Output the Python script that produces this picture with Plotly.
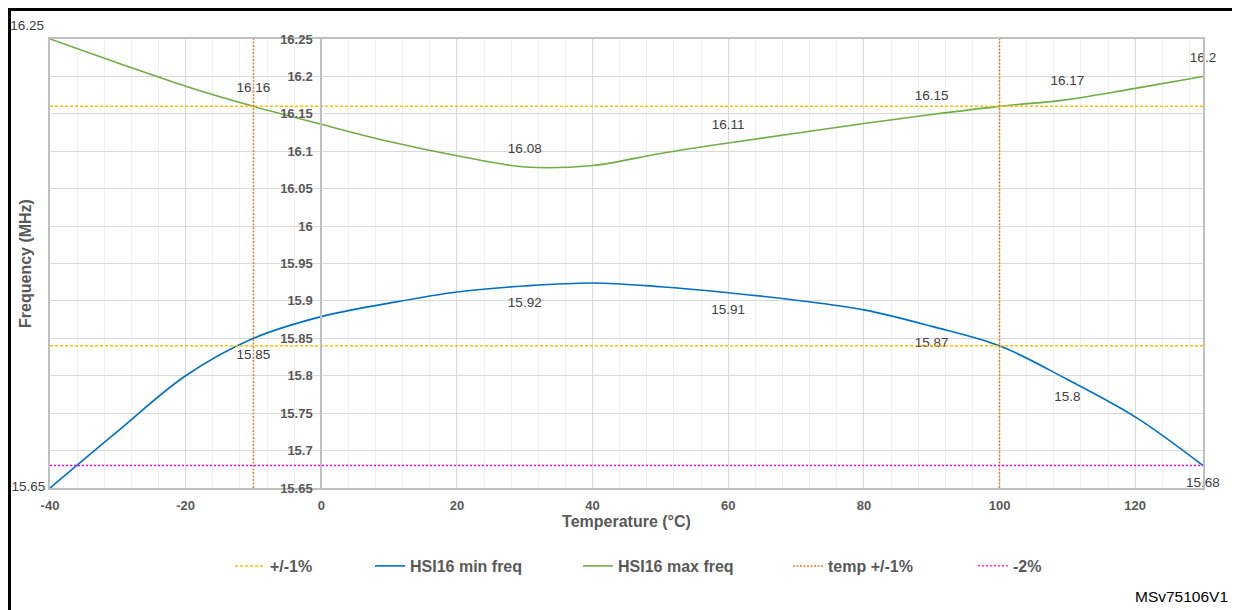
import plotly.graph_objects as go

# ---------------- data ----------------
temperature = [-40, -30, -20, -10, 0, 10, 20, 30, 40, 50, 60, 70, 80, 90, 100, 110, 120, 130]
hsi16_min = [15.65, 15.726, 15.80, 15.85, 15.879, 15.897, 15.912, 15.920, 15.924, 15.919,
             15.911, 15.901, 15.888, 15.866, 15.84, 15.795, 15.745, 15.68]
hsi16_max = [16.25, 16.218, 16.187, 16.16, 16.136, 16.113, 16.094, 16.079, 16.081, 16.097,
             16.111, 16.124, 16.137, 16.149, 16.16, 16.169, 16.184, 16.20]
min_labels = ["15.65", "", "", "15.85", "", "", "", "15.92", "", "", "15.91", "", "", "15.87", "", "15.8", "", "15.68"]
max_labels = ["16.25", "", "", "16.16", "", "", "", "16.08", "", "", "16.11", "", "", "16.15", "", "16.17", "", "16.2"]

freq_limits = [16.16, 15.84]      # +/-1%
temp_limits = [-10, 100]          # temp +/-1%
minus2_limit = 15.68              # -2%
x_range = [-40, 130]
y_range = [15.65, 16.25]
x_tickvals = [-40, -20, 0, 20, 40, 60, 80, 100, 120]
x_ticktext = ["-40", "-20", "0", "20", "40", "60", "80", "100", "120"]

series_names = ["+/-1%", "HSI16 min freq", "HSI16 max freq", "temp +/-1%", "-2%"]

# ---------------- styling ----------------
# page body has an 8px margin, so the figure is drawn 8px right/down of the window corner
OFF = 8
W, H = 1232, 602
L, R, T, B = 42, 37, 31, 122
PW, PH = W - L - R, H - T - B
FONT = "Liberation Sans, Arial, sans-serif"
TICK_GREY = "#595959"
LABEL_GREY = "#404040"


def px_x(px):  # window pixel -> paper fraction
    return (px - OFF - L) / PW


def px_y(py):
    return (H - B - (py - OFF)) / PH


n = len(temperature)
min_pos = ["middle left"] + ["bottom center"] * (n - 1)
max_pos = ["top left"] + ["top center"] * (n - 1)
# invisible markers, only used to push the value labels away from the lines
min_marker = dict(size=[6] + [16] * (n - 1), color="rgba(0,0,0,0)", line=dict(width=0))
max_marker = dict(size=[8] + [16] * (n - 1), color="rgba(0,0,0,0)", line=dict(width=0))

fig = go.Figure()

# +/-1% horizontal limits
hx, hy = [], []
for v in freq_limits:
    hx += [x_range[0], x_range[1], None]
    hy += [v, v, None]
fig.add_trace(go.Scatter(x=hx, y=hy, mode="lines", name=series_names[0],
                         line=dict(color="#FFC000", width=1.5, dash="3px,2px"),
                         yaxis="y2", legend="legend", hoverinfo="skip"))

fig.add_trace(go.Scatter(x=temperature, y=hsi16_min, mode="lines+markers+text", name=series_names[1],
                         text=min_labels, textposition=min_pos, cliponaxis=False,
                         textfont=dict(family=FONT, size=13.5, color=LABEL_GREY),
                         marker=min_marker,
                         line=dict(color="#0070C0", width=1.6, shape="spline", smoothing=1),
                         legend="legend2"))

fig.add_trace(go.Scatter(x=temperature, y=hsi16_max, mode="lines+markers+text", name=series_names[2],
                         text=max_labels, textposition=max_pos, cliponaxis=False,
                         textfont=dict(family=FONT, size=13.5, color=LABEL_GREY),
                         marker=max_marker,
                         line=dict(color="#70AD47", width=1.6, shape="spline", smoothing=1),
                         legend="legend3"))

# temp +/-1% vertical limits
vx, vy = [], []
for t in temp_limits:
    vx += [t, t, None]
    vy += [y_range[0], y_range[1], None]
fig.add_trace(go.Scatter(x=vx, y=vy, mode="lines", name=series_names[3],
                         line=dict(color="#ED7D31", width=1.5, dash="2px,1.5px"),
                         yaxis="y2", legend="legend4", hoverinfo="skip"))

fig.add_trace(go.Scatter(x=x_range, y=[minus2_limit, minus2_limit], mode="lines", name=series_names[4],
                         line=dict(color="#EE00EE", width=1.4, dash="2px,2px"),
                         yaxis="y2", legend="legend5", hoverinfo="skip"))

tickfont = dict(family=FONT, size=13, color=TICK_GREY, weight="bold")
legfont = dict(family=FONT, size=16, color=TICK_GREY, weight="bold")

legend_text_px = [274, 414, 622, 832, 1017]
legend_y = px_y(566)
legends = {}
for i, tx in enumerate(legend_text_px):
    key = "legend" if i == 0 else f"legend{i+1}"
    legends[key] = dict(x=px_x(tx - 44), y=legend_y, xanchor="left", yanchor="middle",
                        orientation="h", font=legfont, bgcolor="rgba(0,0,0,0)",
                        itemwidth=30, borderwidth=0)

fig.update_layout(
    width=W, height=H,
    margin=dict(l=L, r=R, t=T, b=B, autoexpand=False),
    paper_bgcolor="white", plot_bgcolor="white",
    font=dict(family=FONT, color=TICK_GREY),
    showlegend=True,
    xaxis=dict(range=x_range, tickvals=x_tickvals, ticktext=x_ticktext,
               showgrid=True, gridcolor="#D9D9D9", gridwidth=1,
               minor=dict(dtick=4, tick0=-40, showgrid=True, gridcolor="#EFEFEF", gridwidth=1),
               showline=True, linecolor="#BFBFBF", linewidth=2, mirror=True,
               zeroline=False, ticks="", tickfont=tickfont, ticklabelstandoff=4,
               automargin=False,
               title=dict(text="Temperature (°C)", font=dict(family=FONT, size=16, color=TICK_GREY, weight="bold"),
                          standoff=2)),
    yaxis=dict(range=y_range, tick0=15.65, dtick=0.05, showgrid=True, gridcolor="#D9D9D9", gridwidth=1,
               showline=True, linecolor="#BFBFBF", linewidth=2, mirror=True,
               zeroline=False, showticklabels=False, ticks="", automargin=False,
               title=dict(text="Frequency (MHz)", font=dict(family=FONT, size=16, color=TICK_GREY, weight="bold"),
                          standoff=12)),
    yaxis2=dict(range=y_range, tick0=15.65, dtick=0.05, overlaying="y", anchor="free",
                position=(0 - x_range[0]) / (x_range[1] - x_range[0]), side="left",
                showgrid=False, zeroline=False, showline=True, linecolor="#BFBFBF", linewidth=2,
                ticks="", tickfont=tickfont, ticklabelstandoff=5, automargin=False),
    **legends,
)

# outer black frame of the figure
frame = dict(type="line", xref="paper", yref="paper", line=dict(color="black", width=3))
fig.add_shape(x0=px_x(9.5), x1=px_x(9.5), y0=px_y(9.5), y1=px_y(615), **frame)
fig.add_shape(x0=px_x(1234.5), x1=px_x(1234.5), y0=px_y(9.5), y1=px_y(615), **frame)
fig.add_shape(x0=px_x(8), x1=px_x(1236), y0=px_y(9.5), y1=px_y(9.5), **frame)

fig.add_annotation(text="MSv75106V1", xref="paper", yref="paper", x=px_x(1230), y=px_y(596),
                   xanchor="right", yanchor="middle", showarrow=False,
                   font=dict(family=FONT, size=15.5, color="black"))

fig.write_html("out.html")
